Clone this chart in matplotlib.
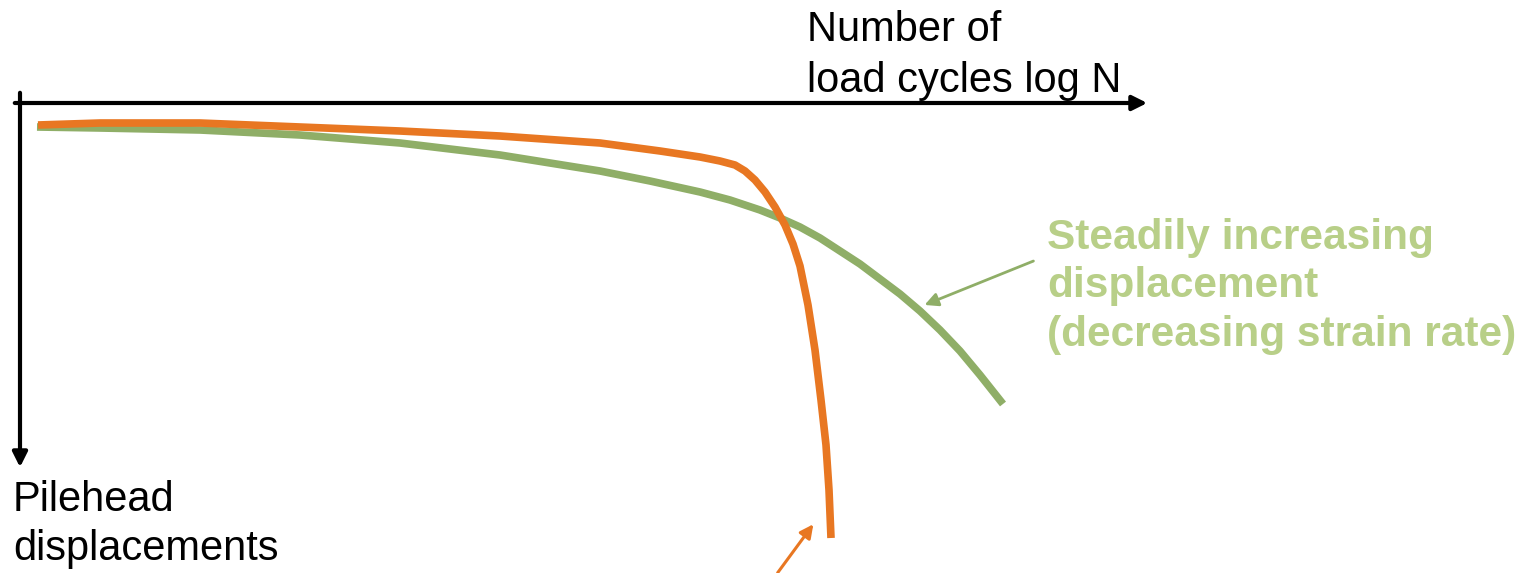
import numpy as np
import matplotlib.pyplot as plt

# curve points (pixel coords, y grows downward)
green_x = [37, 100, 200, 300, 400, 500, 600, 650, 700, 730, 760, 780, 800, 820, 840,
           860, 880, 900, 920, 940, 960, 980, 1003]
green_y = [127, 128, 130, 135, 143, 155, 171, 181, 192, 200, 210, 218, 227, 238, 251,
           264, 279, 294, 311, 330, 351, 375, 404]
orange_x = [38, 100, 200, 300, 400, 500, 600, 660, 700, 720, 735, 745, 755, 765, 775,
            785, 793, 800, 808, 815, 821, 826, 829, 831]
orange_y = [125, 123, 123, 127, 131, 136, 143, 151, 157, 161, 165, 171, 180, 192, 207,
            225, 244, 266, 305, 350, 400, 445, 490, 538]

green_line = '#8FAE67'
green_txt = '#B8CF88'
orange = '#E87722'

plt.rcParams['font.family'] = ['Liberation Sans', 'DejaVu Sans']
fig = plt.figure(figsize=(15.25, 5.73), dpi=100)
ax = fig.add_axes([0, 0, 1, 1])
ax.set_xlim(0, 1525)
ax.set_ylim(573, 0)
ax.axis('off')

# axes arrows
ax.annotate('', xy=(1150, 103), xytext=(12, 103),
            arrowprops=dict(arrowstyle='-|>', color='black', lw=3, mutation_scale=22))
ax.annotate('', xy=(20, 470), xytext=(20, 90),
            arrowprops=dict(arrowstyle='-|>', color='black', lw=3, mutation_scale=22))

ax.plot(green_x, green_y, color=green_line, lw=5.5, solid_capstyle='butt',
        solid_joinstyle='round')
ax.plot(orange_x, orange_y, color=orange, lw=5.5, solid_capstyle='butt',
        solid_joinstyle='round')

# pointer arrows
ax.annotate('', xy=(922, 306), xytext=(1036, 260),
            arrowprops=dict(arrowstyle='-|>', color=green_line, lw=2, mutation_scale=20))
ax.annotate('', xy=(815, 522), xytext=(776, 575),
            arrowprops=dict(arrowstyle='-|>', color=orange, lw=2.2, mutation_scale=20))

ax.text(807, 10, 'Number of\nload cycles log N', fontsize=30, va='top', ha='left',
        linespacing=1.36)
ax.text(13, 480, 'Pilehead\ndisplacements', fontsize=30, va='top', ha='left',
        linespacing=1.3)
ax.text(1047, 218, 'Steadily increasing\ndisplacement\n(decreasing strain rate)',
        fontsize=30.5, fontweight='bold', color=green_txt, va='top', ha='left',
        linespacing=1.27)

fig.savefig('out.png', dpi=100)
